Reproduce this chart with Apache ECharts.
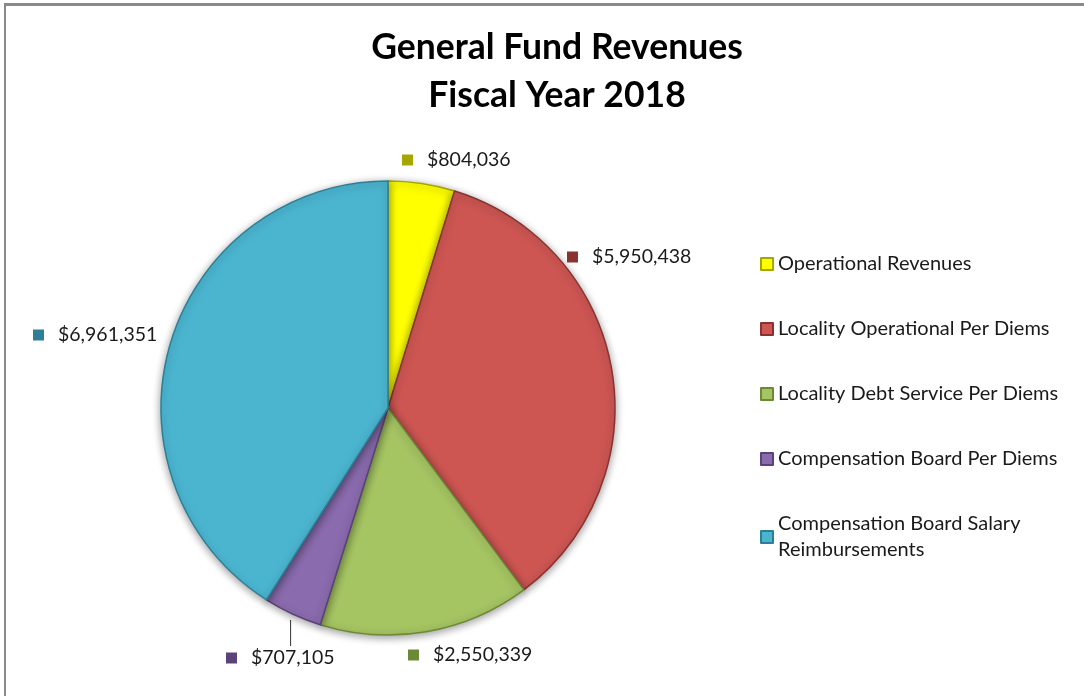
<!DOCTYPE html>
<html>
<head>
<meta charset="utf-8">
<script src="https://cdn.jsdelivr.net/npm/echarts@6/dist/echarts.min.js"></script>
<style>
html,body{margin:0;padding:0;background:#fff;}
#frame{position:absolute;left:4px;top:3px;width:1200px;height:800px;border-left:2px solid #8a8a8a;border-top:3px solid #8a8a8a;}
#chart{position:absolute;left:0;top:0;width:1084px;height:696px;}
</style>
</head>
<body>
<div id="frame"></div>
<div id="chart"></div>
<script>
const categories = [
  'Operational Revenues',
  'Locality Operational Per Diems',
  'Locality Debt Service Per Diems',
  'Compensation Board Per Diems',
  'Compensation Board Salary Reimbursements'
];
const values = [804036, 5950438, 2550339, 707105, 6961351];
const colors = ['#FFFF00', '#CD5653', '#A5C462', '#8A6BAE', '#4BB5D0'];
const borderColors = ['#A6A600', '#8A3230', '#6C8A35', '#5A427A', '#2C7F96'];
const titleText = 'General Fund Revenues\nFiscal Year 2018';

const FONT = 'Lato, "Open Sans", sans-serif';
const labelPos = [
  [402, 160], [567, 257], [408, 655], [226, 658], [33, 335]
];

const data = values.map((v, i) => ({
  name: categories[i],
  value: v,
  itemStyle: { color: colors[i], borderColor: borderColors[i] },
  label: {
    formatter: '{m|}{v|$' + v.toLocaleString('en-US') + '}',
    rich: {
      m: { width: 11, height: 11, backgroundColor: borderColors[i] },
      v: { fontSize: 19.5, color: '#1a1a1a', fontFamily: FONT, padding: [0, 0, 0, 14] }
    }
  },
  labelLine: { show: i === 3, lineStyle: { color: '#333', width: 1 } }
}));

const chart = echarts.init(document.getElementById('chart'), null, { renderer: 'canvas' });
chart.setOption({
  backgroundColor: 'transparent',
  animation: false,
  title: {
    text: titleText,
    left: 552,
    top: 19,
    textAlign: 'center',
    textStyle: { fontFamily: FONT, fontWeight: 'bold', fontSize: 35.5, lineHeight: 48, color: '#000' }
  },
  legend: {
    orient: 'vertical',
    left: 755,
    top: 246,
    itemWidth: 12,
    itemHeight: 12,
    itemGap: 39,
    icon: 'rect',
    data: categories,
    formatter: n => n === 'Compensation Board Salary Reimbursements' ? 'Compensation Board Salary\nReimbursements' : n,
    textStyle: { fontFamily: FONT, fontSize: 20, lineHeight: 26, color: '#1a1a1a', padding: 0 }
  },
  series: [{
    type: 'pie',
    center: [388, 408],
    radius: 227,
    startAngle: 90,
    clockwise: true,
    avoidLabelOverlap: false,
    itemStyle: { borderWidth: 1.5, shadowBlur: 8, shadowColor: 'rgba(0,0,0,0.4)', shadowOffsetY: 2 },
    label: { show: true, position: 'outside' },
    labelLine: { length: 10, length2: 0 },
    labelLayout: function (p) {
      const pos = labelPos[p.dataIndex];
      const res = { x: pos[0], y: pos[1], align: 'left', verticalAlign: 'middle' };
      if (p.dataIndex === 3 && p.labelLinePoints) {
        const x0 = p.labelLinePoints[0][0] - 2;
        const y0 = p.labelLinePoints[0][1] + 6;
        const y1 = pos[1] - 12;
        res.labelLinePoints = [[x0, y0], [x0, (y0 + y1) / 2], [x0, y1]];
      }
      return res;
    },
    emphasis: { disabled: true },
    data: data
  }]
});
</script>
</body>
</html>
